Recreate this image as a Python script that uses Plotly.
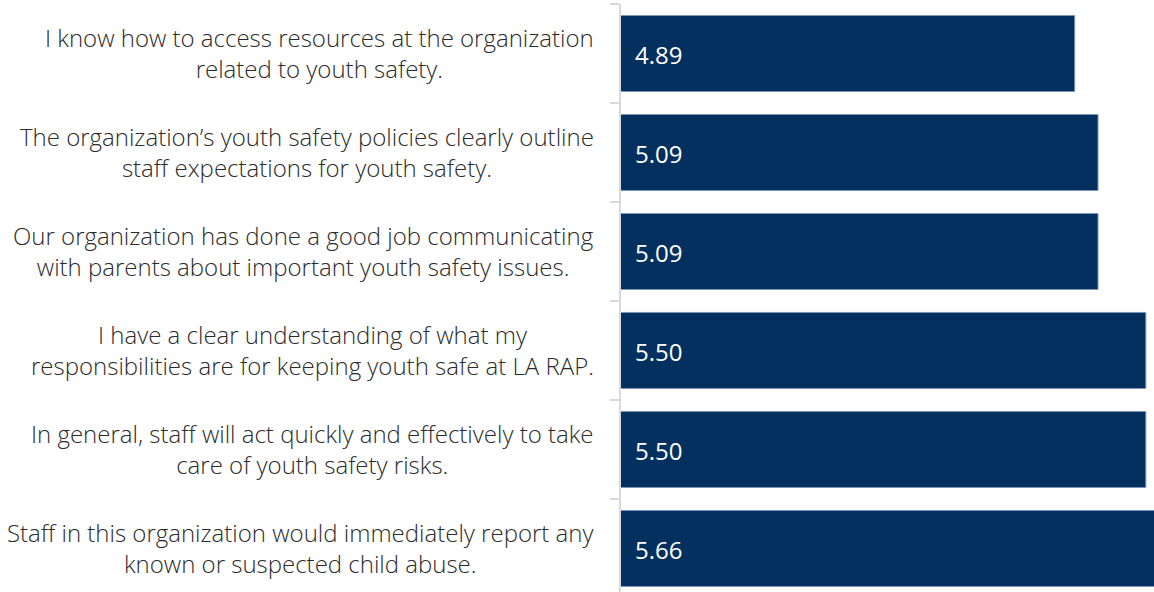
import plotly.graph_objects as go

categories = [
    "I know how to access resources at the organization<br>related to youth safety.",
    "The organization’s youth safety policies clearly outline<br>staff expectations for youth safety.",
    "Our organization has done a good job communicating<br>with parents about important youth safety issues.",
    "I have a clear understanding of what my<br>responsibilities are for keeping youth safe at LA RAP.",
    "In general, staff will act quickly and effectively to take<br>care of youth safety risks.",
    "Staff in this organization would immediately report any<br>known or suspected child abuse.",
]
values = [4.89, 5.09, 5.09, 5.50, 5.50, 5.66]
value_labels = ["4.89", "5.09", "5.09", "5.50", "5.50", "5.66"]

X_MIN, X_MAX = 1.0, 5.57
BAR_COLOR = "#03305e"

fig = go.Figure()
fig.add_trace(go.Bar(
    x=values, y=categories, orientation="h",
    marker=dict(color=BAR_COLOR, line=dict(color="#7d97b8", width=1)),
    width=0.768, hoverinfo="skip",
))

annotations = []
for cat, lab in zip(categories, value_labels):
    annotations.append(dict(
        x=X_MIN, y=cat, xref="x", yref="y", text=lab, showarrow=False,
        xanchor="left", yanchor="middle", xshift=12, yshift=-1,
        font=dict(family="Open Sans", size=24, color="white"),
    ))
    annotations.append(dict(
        x=0.0, y=cat, xref="paper", yref="y", text=cat, showarrow=False,
        xanchor="right", yanchor="middle", xshift=-25, align="center",
        font=dict(family="Open Sans", size=24, color="#2b2b2b", weight=300),
    ))

fig.update_layout(
    width=1154, height=592,
    margin=dict(l=621, r=0, t=4, b=0),
    paper_bgcolor="white", plot_bgcolor="white",
    showlegend=False,
    annotations=annotations,
    xaxis=dict(range=[X_MIN, X_MAX], visible=False, fixedrange=True),
    yaxis=dict(
        type="category", categoryorder="array", categoryarray=categories,
        range=[5.44, -0.5], tickson="boundaries", ticks="outside",
        ticklen=9, tickcolor="#d9d9d9", tickwidth=2,
        showticklabels=False, showline=True, linecolor="#d9d9d9",
        linewidth=2, showgrid=False, zeroline=False,
    ),
)

fig.write_html("out.html")
